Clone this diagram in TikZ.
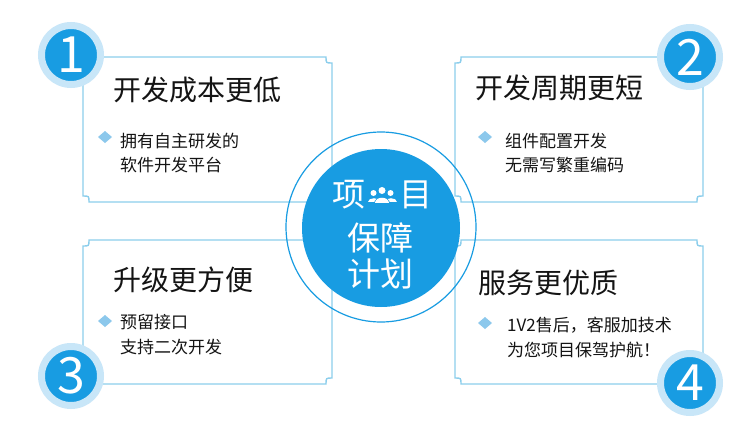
\documentclass[tikz,border=0pt]{standalone}
\usepackage{fontspec}
\setmainfont{Noto Sans CJK SC}
\definecolor{mainblue}{RGB}{24,156,226}
\definecolor{ringblue}{RGB}{200,230,248}
\definecolor{boxblue}{RGB}{140,206,236}
\definecolor{bulletblue}{RGB}{140,200,236}
\definecolor{txt}{RGB}{20,20,20}
\newcommand{\notchbox}[4]{%
  \draw[boxline] (#1+6,#2) -- (#3-6,#2) .. controls (#3-6,#2+6) .. (#3,#2+6)
    -- (#3,#4-6) .. controls (#3-6,#4-6) .. (#3-6,#4)
    -- (#1+6,#4) .. controls (#1+6,#4-6) .. (#1,#4-6)
    -- (#1,#2+6) .. controls (#1+6,#2+6) .. (#1+6,#2) -- cycle;}
\newcommand{\bulletmark}[2]{%
  \fill[bulletblue] (#1-7,#2) -- (#1,#2-6) -- (#1+7,#2) -- (#1,#2+6) -- cycle;}
\tikzset{
  boxline/.style={draw=boxblue, line width=1.4pt},
  numc/.style={circle, fill=mainblue, draw=ringblue, line width=7pt, minimum size=59pt,
    inner sep=0pt, text=white, font=\fontsize{50}{50}\selectfont},
  title/.style={anchor=west, inner sep=0pt, text=txt, font=\fontsize{28}{30}\selectfont},
  body/.style={anchor=west, inner sep=0pt, text=txt, font=\fontsize{17}{20}\selectfont},
  coretext/.style={inner sep=0pt, text=white, font=\fontsize{33}{36}\selectfont},
}
\begin{document}
\begin{tikzpicture}[x=1pt, y=-1pt]
\useasboundingbox[fill=white] (0,0) rectangle (750,426);
% boxes
\notchbox{83}{57}{332}{202}
\notchbox{455}{57}{703}{202}
\notchbox{83}{240}{332}{384}
\notchbox{455}{240}{703}{384}
% centre
\node[circle, draw=mainblue, line width=1.2pt, minimum size=190pt, inner sep=0pt] (ring) at (381,227) {};
\node[circle, fill=mainblue, minimum size=158pt, inner sep=0pt] (core) at (381,228) {};
\node[coretext] (ca) at (349,195) {项};
\node[coretext] (cb) at (416,195) {目};
\node[coretext] (cc) at (380,238) {保障};
\node[coretext] (cd) at (380,274) {计划};
% people icon
\fill[white] (373.5,193) circle (3pt);
\fill[white] (390.5,193) circle (3pt);
\fill[white] (367.5,202) .. controls (367.5,196.5) and (379.5,196.5) .. (379.5,202) -- cycle;
\fill[white] (384.5,202) .. controls (384.5,196.5) and (396.5,196.5) .. (396.5,202) -- cycle;
\fill[mainblue] (382,190.5) circle (4.6pt);
\fill[mainblue] (373.6,203.5) .. controls (373.6,194.5) and (390.4,194.5) .. (390.4,203.5) -- cycle;
\fill[white] (382,190.5) circle (3.5pt);
\fill[white] (375,202.5) .. controls (375,195.5) and (389,195.5) .. (389,202.5) -- cycle;
% number circles
\node[numc] (n1) at (71,55) {1};
\node[numc] (n2) at (690,57) {2};
\node[numc] (n3) at (71,376) {3};
\node[numc] (n4) at (690,383) {4};
% box 1
\node[title] (t1) at (113,90) {开发成本更低};
\bulletmark{105}{137}
\node[body] (b1a) at (120,141) {拥有自主研发的};
\node[body] (b1b) at (120,165) {软件开发平台};
% box 2
\node[title] (t2) at (475,88) {开发周期更短};
\bulletmark{485}{137}
\node[body] (b2a) at (505,141) {组件配置开发};
\node[body] (b2b) at (505,165) {无需写繁重编码};
% box 3
\node[title] (t3) at (113,280) {升级更方便};
\bulletmark{105}{321}
\node[body] (b3a) at (120,322) {预留接口};
\node[body] (b3b) at (120,347) {支持二次开发};
% box 4
\node[title] (t4) at (478,283) {服务更优质};
\bulletmark{485}{323}
\node[body] (b4a) at (507,325) {1V2售后，客服加技术};
\node[body] (b4b) at (507,350) {为您项目保驾护航！};
\end{tikzpicture}
\end{document}
